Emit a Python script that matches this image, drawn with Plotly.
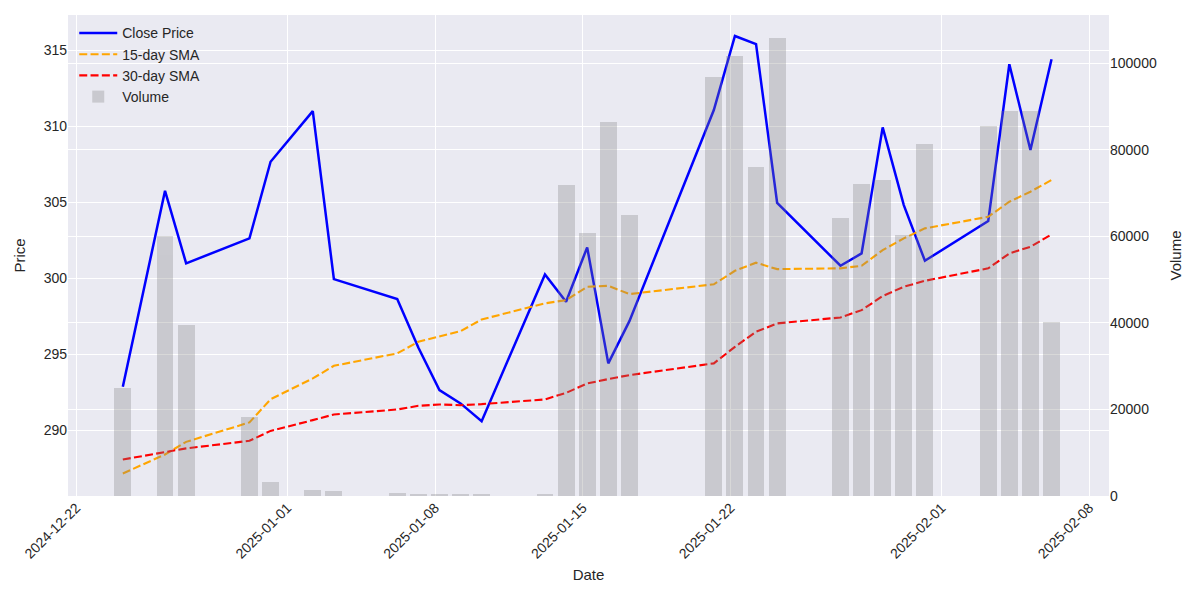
import pandas as pd
import plotly.graph_objects as go

# ---- data ----
dates = ["2024-12-24", "2024-12-26", "2024-12-27", "2024-12-30", "2024-12-31",
         "2025-01-02", "2025-01-03", "2025-01-06", "2025-01-07", "2025-01-08",
         "2025-01-09", "2025-01-10", "2025-01-13", "2025-01-14", "2025-01-15",
         "2025-01-16", "2025-01-17", "2025-01-21", "2025-01-22", "2025-01-23",
         "2025-01-24", "2025-01-27", "2025-01-28", "2025-01-29", "2025-01-30",
         "2025-01-31", "2025-02-03", "2025-02-04", "2025-02-05", "2025-02-06"]

close = [292.87, 305.76, 300.99, 302.63, 307.67,
         311.00, 299.95, 298.64, 295.45, 292.65,
         291.78, 290.61, 300.26, 298.46, 302.04,
         294.41, 297.19, 311.07, 315.94, 315.41,
         304.97, 300.83, 301.64, 309.93, 304.82,
         301.16, 303.77, 314.08, 308.44, 314.41]

sma15 = [287.17, 288.42, 289.25, 290.53, 292.05,
         293.42, 294.25, 295.07, 295.83, 296.16,
         296.53, 297.30, 298.36, 298.57, 299.45,
         299.51, 298.97, 299.61, 300.50, 301.03,
         300.61, 300.66, 300.83, 301.86, 302.63,
         303.29, 304.05, 305.04, 305.70, 306.47]

sma30 = [288.09, 288.55, 288.82, 289.32, 289.97,
         290.68, 291.05, 291.38, 291.62, 291.71,
         291.66, 291.73, 292.04, 292.47, 293.09,
         293.38, 293.64, 294.41, 295.50, 296.49,
         297.04, 297.43, 297.91, 298.84, 299.45,
         299.84, 300.66, 301.64, 302.08, 302.89]

volume = [25000, 60100, 39500, 18300, 3300,
          1340, 1100, 720, 490, 260,
          260, 260, 250, 71900, 60800,
          86400, 64900, 96900, 101800, 76100,
          105900, 64300, 72100, 73000, 60300,
          81300, 85600, 89000, 89000, 40300]

x_tick_dates = ["2024-12-22", "2025-01-01", "2025-01-08", "2025-01-15",
                "2025-01-22", "2025-02-01", "2025-02-08"]
x_tick_labels = x_tick_dates
price_ticks = [290, 295, 300, 305, 310, 315]
volume_ticks = [0, 20000, 40000, 60000, 80000, 100000]

# timestamps are midnight New York time stored in UTC
x = pd.to_datetime(dates) + pd.Timedelta(hours=5)

FONT = "Arial, Liberation Sans, sans-serif"
TXT = "#262626"

fig = go.Figure()
fig.add_trace(go.Scatter(x=x, y=close, mode="lines", name="Close Price",
                         line=dict(color="blue", width=2.5), yaxis="y"))
fig.add_trace(go.Scatter(x=x, y=sma15, mode="lines", name="15-day SMA",
                         line=dict(color="orange", width=2.1, dash="8px,3.3px"), yaxis="y"))
fig.add_trace(go.Scatter(x=x, y=sma30, mode="lines", name="30-day SMA",
                         line=dict(color="red", width=2.1, dash="8px,3.3px"), yaxis="y"))
fig.add_trace(go.Bar(x=x, y=volume, name="Volume", yaxis="y2",
                     marker=dict(color="gray", line=dict(width=0)),
                     opacity=0.3, width=0.8 * 86400000))

fig.update_layout(
    width=1200, height=600,
    margin=dict(l=68, r=91, t=15, b=104),
    paper_bgcolor="white", plot_bgcolor="#EAEAF2",
    font=dict(family=FONT, size=14, color=TXT),
    showlegend=True,
    legend=dict(x=0.006, y=0.995, xanchor="left", yanchor="top",
                bgcolor="rgba(0,0,0,0)", font=dict(size=14, color=TXT),
                tracegroupgap=0, itemwidth=38),
    bargap=0,
    xaxis=dict(type="date",
               range=["2024-12-21 14:40", "2025-02-08 22:20"],
               tickvals=pd.to_datetime(x_tick_dates), ticktext=x_tick_labels,
               tickangle=-45, showgrid=True, gridcolor="white", gridwidth=1.3,
               zeroline=False, showline=False, ticks="",
               title=dict(text="Date", font=dict(size=15, color=TXT), standoff=8),
               tickfont=dict(size=14, color=TXT)),
    yaxis=dict(range=[285.69, 317.32], tickvals=price_ticks,
               showgrid=True, gridcolor="white", gridwidth=1.3,
               zeroline=False, showline=False, ticks="",
               title=dict(text="Price", font=dict(size=15, color=TXT), standoff=14),
               tickfont=dict(size=14, color=TXT)),
    yaxis2=dict(range=[0, 111170], tickvals=volume_ticks, tickformat="d",
                overlaying="y", side="right",
                showgrid=True, gridcolor="white", gridwidth=1.3,
                zeroline=False, showline=False, ticks="",
                title=dict(text="Volume", font=dict(size=15, color=TXT), standoff=14),
                tickfont=dict(size=14, color=TXT)),
)

fig.write_html("out.html")
